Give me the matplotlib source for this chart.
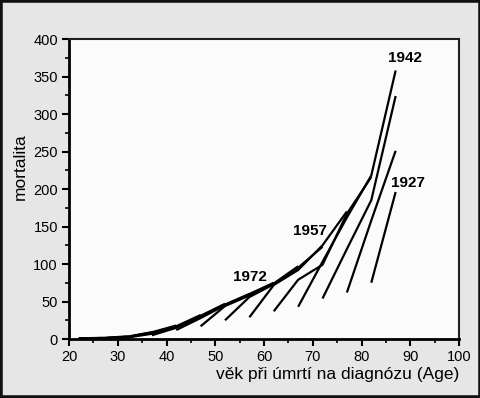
import numpy as np
import matplotlib
matplotlib.use("Agg")
import matplotlib.pyplot as plt
from matplotlib.patches import Rectangle
from matplotlib.ticker import MultipleLocator

# age groups (midpoints) and mortality per period (rows = periods, oldest first)
ages = [22, 27, 32, 37, 42, 47, 52, 57, 62, 67, 72, 77, 82, 87]
period_1 = [0.5, 1, 2, 5, 12, 17, 25, 29, 37, 43, 54, 62, 75, np.nan]
period_2 = [0.5, 1, 2.5, 7, 15, 28, 44, 56, 72, 79, 103, 120, 158, 196]
period_3 = [0.5, 1, 3, 8, 16, 30, 45, 58, 73, 92, 99, 162, 185, 251]
period_4 = [1, 1.5, 3, 9, 17, 31, 46, 60, 74, 95, 125, 167, 218, 324]
period_5 = [1, 1.5, 3.5, 9, 18, 32, 47, 60, 75, 97, 123, 170, 216, 358]

cohort_labels = ["1972", "1957", "1942", "1927"]
label_pos = [(57.2, 83), (69.4, 144), (88.9, 375), (89.5, 208)]

rates = np.array([period_1, period_2, period_3, period_4, period_5])
n_per, n_age = rates.shape

fig = plt.figure(figsize=(4.81, 3.98), dpi=100, facecolor="#e6e6e6")
ax = fig.add_axes([0.1435, 0.1482, 0.8108, 0.7538])
ax.set_facecolor("#fbfbfb")

# each cohort = a diagonal through the age x period table
for start in range(-(n_per - 1), n_age):
    xs, ys = [], []
    for p in range(n_per):
        i = start + p
        if 0 <= i < n_age and not np.isnan(rates[p, i]):
            xs.append(ages[i])
            ys.append(rates[p, i])
    if len(xs) > 1:
        ax.plot(xs, ys, color="black", lw=1.6, solid_capstyle="butt")

for lab, (x, y) in zip(cohort_labels, label_pos):
    ax.text(x, y, lab, fontsize=11, fontweight="bold", ha="center", va="center",
            family="Liberation Sans")

ax.set_xlim(20, 100)
ax.set_ylim(0, 400)
ax.xaxis.set_major_locator(MultipleLocator(10))
ax.xaxis.set_minor_locator(MultipleLocator(5))
ax.yaxis.set_major_locator(MultipleLocator(50))
ax.yaxis.set_minor_locator(MultipleLocator(25))
ax.tick_params(which="major", direction="out", length=5, width=1.5, labelsize=10.5, pad=3)
ax.tick_params(which="minor", direction="out", length=3, width=1.2)
ax.tick_params(top=False, right=False)
for lab in ax.get_xticklabels() + ax.get_yticklabels():
    lab.set_family("Liberation Sans")

ax.spines["left"].set_linewidth(2)
ax.spines["bottom"].set_linewidth(2)
ax.spines["top"].set_linewidth(1.5)
ax.spines["right"].set_linewidth(1.5)
ax.spines["top"].set_color("#202020")
ax.spines["right"].set_color("#202020")

ax.set_xlabel("věk při úmrtí na diagnózu (Age)", fontsize=12.5, family="Liberation Sans",
              loc="right", labelpad=2)
ax.set_ylabel("mortalita", fontsize=12.5, family="Liberation Sans")
ax.yaxis.set_label_coords(-0.105, 0.573)

# dark frame around the whole picture
fig.patches.append(Rectangle((0, 0), 1, 1, transform=fig.transFigure, fill=False,
                             edgecolor="#111111", lw=4))

fig.savefig("out.png", dpi=100, facecolor=fig.get_facecolor())
